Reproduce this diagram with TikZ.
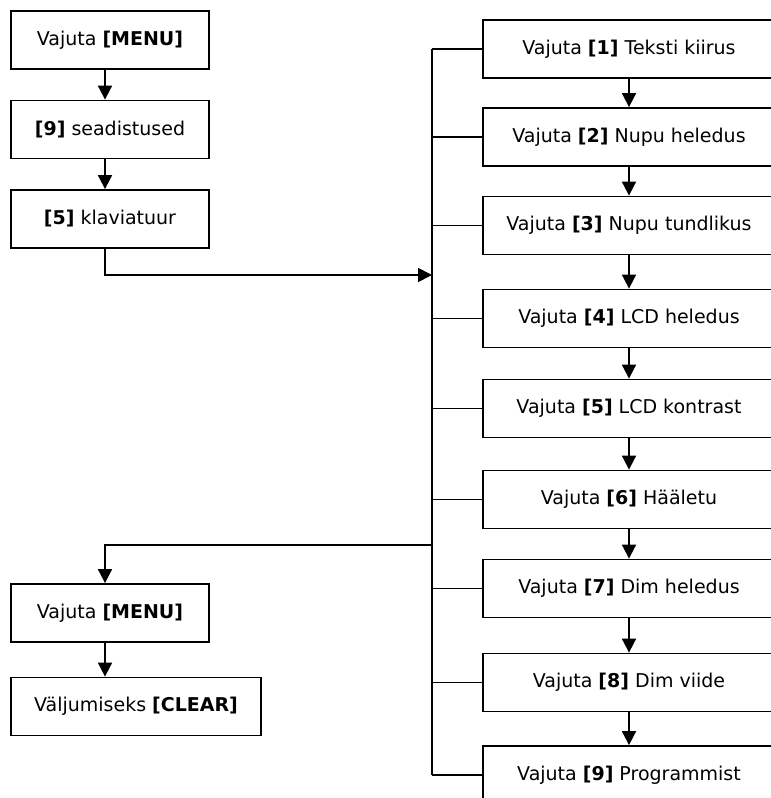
\documentclass[tikz,border=0pt]{standalone}
\usepackage{fontspec}
\setmainfont{DejaVu Sans}
\usetikzlibrary{arrows.meta}
\begin{document}
\begin{tikzpicture}[x=1pt,y={(0,-1pt)},
  box/.style={draw,line width=1.8pt,minimum height=58pt,inner sep=0pt,font=\fontsize{19}{21}\selectfont},
  lbox/.style={box,minimum width=198pt},
  rbox/.style={box,minimum width=292pt},
  conn/.style={line width=1.8pt},
  arr/.style={conn,-{Triangle[width=14pt,length=14pt]}}]
\useasboundingbox (0,0) rectangle (771,798);
% left column
\node[lbox] (m1) at (110,40) {Vajuta \textbf{[MENU]}};
\node[lbox] (s9) at (110,129.5) {\textbf{[9]} seadistused};
\node[lbox] (s5) at (110,219) {\textbf{[5]} klaviatuur};
\node[lbox] (m2) at (110,613) {Vajuta \textbf{[MENU]}};
\node[box,minimum width=250pt] (cl) at (136,706.5) {Väljumiseks \textbf{[CLEAR]}};
\coordinate (lx) at (105,0);
% right column
\node[rbox] (r1) at (629,49) {Vajuta \textbf{[1]} Teksti kiirus};
\node[rbox] (r2) at (629,137) {Vajuta \textbf{[2]} Nupu heledus};
\node[rbox] (r3) at (629,225.5) {Vajuta \textbf{[3]} Nupu tundlikus};
\node[rbox] (r4) at (629,318.5) {Vajuta \textbf{[4]} LCD heledus};
\node[rbox] (r5) at (629,408.5) {Vajuta \textbf{[5]} LCD kontrast};
\node[rbox] (r6) at (629,499.5) {Vajuta \textbf{[6]} Hääletu};
\node[rbox] (r7) at (629,588.5) {Vajuta \textbf{[7]} Dim heledus};
\node[rbox] (r8) at (629,682.5) {Vajuta \textbf{[8]} Dim viide};
\node[rbox] (r9) at (629,775) {Vajuta \textbf{[9]} Programmist};
\coordinate (bus) at (432,0);
\coordinate (in) at (432,275);
\coordinate (out) at (432,545);
% left arrows
\draw[arr] (m1.south -| lx) -- (s9.north -| lx);
\draw[arr] (s9.south -| lx) -- (s5.north -| lx);
\draw[arr] (s5.south -| lx) |- (in);
\draw[arr] (out) -| (m2.north -| lx);
\draw[arr] (m2.south -| lx) -- (cl.north -| lx);
% right arrows
\foreach \a/\b in {r1/r2,r2/r3,r3/r4,r4/r5,r5/r6,r6/r7,r7/r8,r8/r9}
  \draw[arr] (\a.south) -- (\b.north);
% bus
\draw[conn] (r1.west -| bus) -- (r9.west -| bus);
\foreach \r in {r1,r2,r3,r4,r5,r6,r7,r8,r9}
  \draw[conn] (\r.west -| bus) -- (\r.west);
\end{tikzpicture}
\end{document}
